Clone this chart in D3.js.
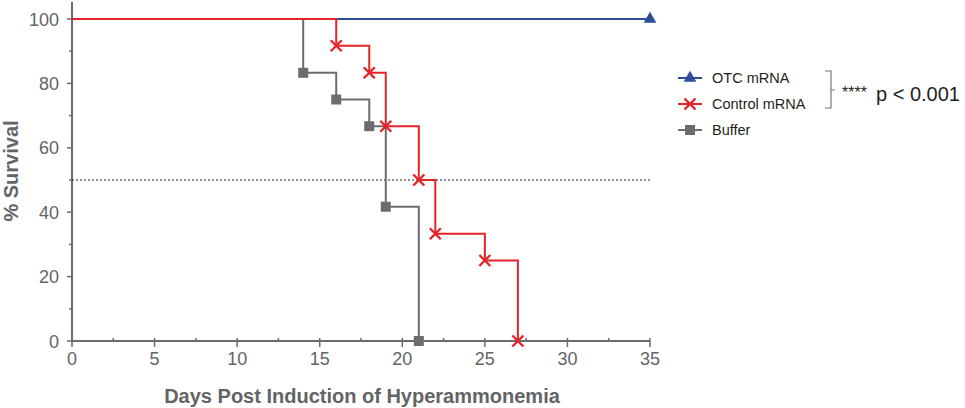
<!DOCTYPE html>
<html><head><meta charset="utf-8">
<script src="https://cdn.jsdelivr.net/npm/d3@7"></script>
<style>body{margin:0;background:#fff;font-family:"Liberation Sans",Arial,sans-serif;}</style>
</head><body><svg id="c" width="965" height="408"></svg>
<script>
const seriesNames = ["OTC mRNA", "Control mRNA", "Buffer"];
const otcDays = [0, 35];
const otcSurv = [100, 100];
const controlDays = [0, 16, 18, 19, 21, 22, 25, 27];
const controlSurv = [100, 91.7, 83.3, 66.7, 50, 33.3, 25, 0];
const bufferDays = [0, 14, 16, 18, 19, 21];
const bufferSurv = [100, 83.3, 75, 66.7, 41.7, 0];
const xTicks = [0, 5, 10, 15, 20, 25, 30, 35];
const yTicks = [0, 20, 40, 60, 80, 100];
const colors = ["#2e4e9c", "#e42428", "#6b6c6f"];

const svg = d3.select("#c");
const x = d3.scaleLinear().domain([0, 35]).range([72, 650]);
const y = d3.scaleLinear().domain([0, 100]).range([341, 19]);
const axisCol = "#6b6c6f", textCol = "#636466";

// axes
const gx = svg.append("g").attr("transform", "translate(0,341)");
gx.append("line").attr("x1", x(0)).attr("x2", x(35)).attr("stroke", axisCol).attr("stroke-width", 2);
d3.range(0, 35.1, 2.5).forEach(v => {
  const major = v % 5 === 0;
  gx.append("line").attr("x1", x(v)).attr("x2", x(v)).attr("y1", -3).attr("y2", major ? 6 : 0).attr("stroke", axisCol).attr("stroke-width", 1.5);
});
xTicks.forEach(v => gx.append("text").attr("x", x(v)).attr("y", 24).attr("text-anchor", "middle").attr("font-size", 18).attr("fill", textCol).text(v));

const gy = svg.append("g").attr("transform", "translate(72,0)");
gy.append("line").attr("y1", 2).attr("y2", y(0) + 1).attr("stroke", axisCol).attr("stroke-width", 2);
d3.range(0, 100.1, 10).forEach(v => {
  const major = v % 20 === 0;
  gy.append("line").attr("x1", major ? -5 : -3).attr("x2", 0).attr("y1", y(v)).attr("y2", y(v)).attr("stroke", axisCol).attr("stroke-width", 1.5);
});
yTicks.forEach(v => gy.append("text").attr("x", -13).attr("y", y(v) + 6.5).attr("text-anchor", "end").attr("font-size", 18).attr("fill", textCol).text(v));

svg.append("text").attr("transform", "translate(18,171) rotate(-90)").attr("text-anchor", "middle").attr("font-size", 20).attr("font-weight", "bold").attr("fill", textCol).text("% Survival");
svg.append("text").attr("x", 362).attr("y", 403).attr("text-anchor", "middle").attr("font-size", 20).attr("font-weight", "bold").attr("fill", textCol).text("Days Post Induction of Hyperammonemia");

// median line
svg.append("line").attr("x1", x(0)).attr("x2", x(35)).attr("y1", y(50)).attr("y2", y(50)).attr("stroke", "#222").attr("stroke-width", 1.2).attr("stroke-dasharray", "2,2");

const line = d3.line().x(d => x(d[0])).y(d => y(d[1])).curve(d3.curveStepAfter);
function drawSeries(days, surv, col, marker, endOnly) {
  const pts = days.map((d, i) => [d, surv[i]]);
  svg.append("path").datum(pts).attr("d", line).attr("fill", "none").attr("stroke", col).attr("stroke-width", 2);
  const mp = endOnly ? [[days[days.length - 1], surv[surv.length - 1]]] : days.slice(1).map((d, i) => [d, surv[i + 1]]);
  mp.forEach(p => drawMarker(x(p[0]), y(p[1]), marker, col));
}
function drawMarker(cx, cy, m, col) {
  if (m === "tri") svg.append("path").attr("d", d3.symbol(d3.symbolTriangle, 70)()).attr("transform", `translate(${cx},${cy})`).attr("fill", col);
  else if (m === "sq") svg.append("rect").attr("x", cx - 5).attr("y", cy - 5).attr("width", 10).attr("height", 10).attr("fill", col);
  else svg.append("path").attr("d", `M${cx-5.5},${cy-5.5}L${cx+5.5},${cy+5.5}M${cx-5.5},${cy+5.5}L${cx+5.5},${cy-5.5}`).attr("stroke", col).attr("stroke-width", 2.4);
}
drawSeries(otcDays, otcSurv, colors[0], "tri", true);
drawSeries(bufferDays, bufferSurv, colors[2], "sq", false);
drawSeries(controlDays, controlSurv, colors[1], "x", false);

// legend
const markers = ["tri", "x", "sq"];
seriesNames.forEach((n, i) => {
  const ly = 78 + i * 26;
  svg.append("line").attr("x1", 678).attr("x2", 702).attr("y1", ly).attr("y2", ly).attr("stroke", colors[i]).attr("stroke-width", 2);
  drawMarker(690, ly, markers[i], colors[i]);
  svg.append("text").attr("x", 712).attr("y", ly + 5).attr("font-size", 14.5).attr("fill", "#231f20").text(n);
});
svg.append("path").attr("d", "M825,71 L831,71 L831,108 L825,108 M831,90 L835,90").attr("fill", "none").attr("stroke", "#777").attr("stroke-width", 1.2);
svg.append("text").attr("x", 842).attr("y", 98).attr("font-size", 16).attr("fill", "#231f20").text("****");
svg.append("text").attr("x", 876).attr("y", 101).attr("font-size", 20).attr("fill", "#231f20").text("p < 0.001");
</script></body></html>
